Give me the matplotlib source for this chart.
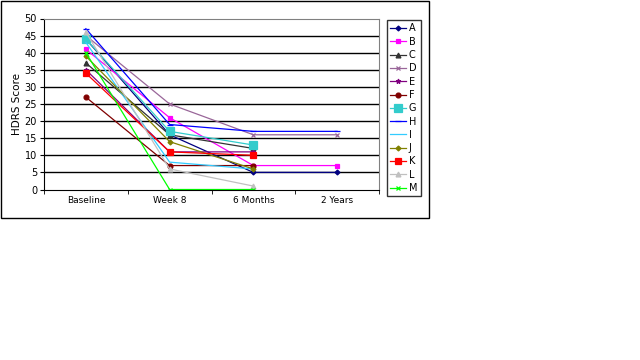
import matplotlib
matplotlib.use("Agg")
import matplotlib.pyplot as plt
from matplotlib.patches import Rectangle
import numpy as np

# time points
categories = ["Baseline", "Week 8", "6 Months", "2 Years"]

# HDRS scores per patient (nan = not measured)
nan = np.nan
A = [44, 16, 5, 5]
B = [41, 21, 7, 7]
C = [37, 16, 12, nan]
D = [45, 25, 16, 16]
E = [35, 11, 11, nan]
F = [27, 7, 7, nan]
G = [44, 17, 13, nan]
H = [47, 19, 17, 17]
I = [43, 8, 6, nan]
J = [39, 14, 6, nan]
K = [34, 11, 10, nan]
L = [46, 6, 1, nan]
M = [40, 0, 0, nan]

names = ["A", "B", "C", "D", "E", "F", "G", "H", "I", "J", "K", "L", "M"]
series = [A, B, C, D, E, F, G, H, I, J, K, L, M]

# line colour, marker, marker size
styles = [
    ("#000080", "D", 2.5),
    ("#FF00FF", "s", 3.5),
    ("#333333", "^", 3.5),
    ("#996699", "x", 3.5),
    ("#800080", "*", 3.5),
    ("#800000", "o", 3.5),
    ("#33CCCC", "s", 6),
    ("#0000FF", "_", 4),
    ("#33CCFF", "", 0),
    ("#808000", "D", 2.5),
    ("#FF0000", "s", 4.5),
    ("#C0C0C0", "^", 3.5),
    ("#00FF00", "x", 3.5),
]

fig = plt.figure(figsize=(6.4, 3.6), dpi=100)
fig.patch.set_facecolor("white")

# outer chart border
fig.patches.append(Rectangle((0.002, 1 - 218 / 360), 428 / 640, 217 / 360,
                             transform=fig.transFigure, fill=False,
                             edgecolor="black", linewidth=1))

ax = fig.add_axes([44 / 640, 1 - 189.5 / 360, 335 / 640, 171 / 360])

x = np.arange(len(categories))
for name, vals, (col, mk, ms) in zip(names, series, styles):
    ax.plot(x, np.array(vals, dtype=float), color=col, marker=mk, markersize=ms,
            markeredgewidth=0.9, linewidth=0.9, label=name)

ax.set_xlim(-0.5, len(categories) - 0.5)
ax.set_ylim(0, 50)
ax.set_yticks(range(0, 51, 5))
ax.set_xticks(x)
ax.set_xticklabels(categories)
ax.set_xticks(np.arange(-0.5, len(categories), 1), minor=True)
ax.tick_params(axis="x", which="major", length=0, labelsize=6.5, pad=5)
ax.tick_params(axis="x", which="minor", length=3, direction="out")
ax.tick_params(axis="y", length=3, direction="out", labelsize=7, pad=2)
for yv in range(5, 50, 5):
    ax.axhline(yv, color="black", linewidth=1, zorder=0)
ax.spines["top"].set_color("#808080")
ax.spines["right"].set_color("#808080")
ax.set_ylabel("HDRS Score", fontsize=7.5, labelpad=2)

fig.legend(loc="upper left", bbox_to_anchor=(387 / 640, 1 - 20 / 360),
           borderaxespad=0, fontsize=7, frameon=True, fancybox=False,
           edgecolor="black", labelspacing=0.34, handlelength=1.6,
           handletextpad=0.3, borderpad=0.35)
fig.legends[0].get_frame().set_linewidth(1)

plt.savefig("out.png", dpi=100)
